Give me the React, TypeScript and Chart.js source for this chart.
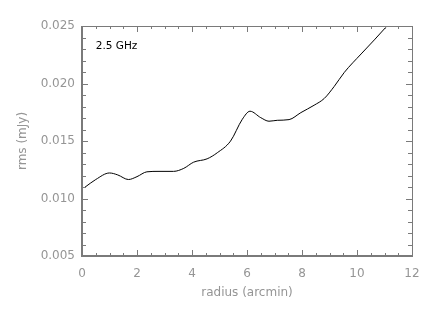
import React, { useEffect, useRef } from "react";
import { Chart, registerables } from "chart.js";

Chart.register(...registerables);

const radius = [0.1, 0.5, 1.0, 1.3, 1.69, 2.0, 2.36, 2.8, 3.33, 3.7, 4.06, 4.55, 4.92, 5.4, 5.83, 6.11, 6.5, 6.8, 7.1, 7.53, 7.96, 8.44, 8.81, 9.17, 9.54, 10.15, 10.63, 11.09];
const rms = [0.01097, 0.01165, 0.01222, 0.01205, 0.01165, 0.0119, 0.01232, 0.01236, 0.01236, 0.01262, 0.01316, 0.01345, 0.01398, 0.01499, 0.01689, 0.01759, 0.01703, 0.01672, 0.0168, 0.01686, 0.01747, 0.01811, 0.0187, 0.01974, 0.02097, 0.02257, 0.02379, 0.025];

const xMajor = [0, 2, 4, 6, 8, 10, 12];
const yMajor = [0.005, 0.01, 0.015, 0.02, 0.025];
const annotation = "2.5 GHz";
const xTitle = "radius (arcmin)";
const yTitle = "rms (mJy)";

const AXIS = "#7a7a7a";
const TEXT = "#959595";
const FONT = "'DejaVu Sans'";

const framePlugin = {
  id: "frame",
  afterDatasetsDraw(chart: any) {
    const { ctx, chartArea: a, scales } = chart;
    const xs = scales.x;
    const ys = scales.y;
    ctx.save();
    ctx.strokeStyle = AXIS;
    ctx.lineWidth = 1;
    for (let v = 0; v <= 12.001; v += 0.5) {
      const px = Math.round(xs.getPixelForValue(v)) + 0.5;
      const major = xMajor.some((m) => Math.abs(m - v) < 1e-6);
      const len = major ? 6 : 3;
      ctx.beginPath();
      ctx.moveTo(px, a.bottom);
      ctx.lineTo(px, a.bottom - len);
      ctx.moveTo(px, a.top);
      ctx.lineTo(px, a.top + len);
      ctx.stroke();
    }
    for (let i = 5; i <= 25; i++) {
      const v = i / 1000;
      const py = Math.round(ys.getPixelForValue(v)) + 0.5;
      const major = i % 5 === 0;
      const len = major ? 6 : 4;
      ctx.beginPath();
      ctx.moveTo(a.left, py);
      ctx.lineTo(a.left + len, py);
      ctx.moveTo(a.right, py);
      ctx.lineTo(a.right - len, py);
      ctx.stroke();
    }
    ctx.lineWidth = 1;
    ctx.beginPath();
    ctx.moveTo(a.left, a.top + 0.5);
    ctx.lineTo(a.right, a.top + 0.5);
    ctx.moveTo(a.right + 0.5, a.top);
    ctx.lineTo(a.right + 0.5, a.bottom);
    ctx.stroke();
    ctx.lineWidth = 2;
    ctx.beginPath();
    ctx.moveTo(a.left, a.top);
    ctx.lineTo(a.left, a.bottom);
    ctx.lineTo(a.right + 1, a.bottom);
    ctx.stroke();
    ctx.fillStyle = "#000";
    ctx.font = "10.5px " + FONT;
    ctx.textBaseline = "middle";
    ctx.textAlign = "left";
    ctx.fillText(annotation, xs.getPixelForValue(0.5), ys.getPixelForValue(0.0232));
    ctx.restore();
  },
};

export default function App() {
  const ref = useRef<HTMLCanvasElement>(null);
  useEffect(() => {
    const chart = new Chart(ref.current!, {
      type: "line",
      data: {
        datasets: [
          {
            data: radius.map((r, i) => ({ x: r, y: rms[i] })),
            borderColor: "#000",
            borderWidth: 1,
            pointRadius: 0,
            cubicInterpolationMode: "monotone",
            fill: false,
          },
        ],
      },
      options: {
        animation: false,
        responsive: false,
        devicePixelRatio: 1,
        layout: { padding: { left: 0, right: 24, top: 26, bottom: 0 } },
        plugins: { legend: { display: false }, tooltip: { enabled: false } },
        scales: {
          x: {
            type: "linear",
            min: 0,
            max: 12,
            grid: { display: false, drawTicks: false },
            border: { display: false },
            afterFit: (s: any) => {
              s.height = 56;
            },
            ticks: {
              stepSize: 2,
              color: TEXT,
              padding: 11,
              font: { family: FONT, size: 12 },
              maxRotation: 0,
            },
            title: {
              display: true,
              text: xTitle,
              color: TEXT,
              font: { family: FONT, size: 12 },
              padding: { top: 0, bottom: 12 },
            },
          },
          y: {
            type: "linear",
            min: 0.005,
            max: 0.025,
            grid: { display: false, drawTicks: false },
            border: { display: false },
            afterFit: (s: any) => {
              s.width = 82;
            },
            afterBuildTicks: (s: any) => {
              s.ticks = yMajor.map((v) => ({ value: v }));
            },
            ticks: {
              color: TEXT,
              padding: 7,
              font: { family: FONT, size: 12 },
              callback: (v: any) => Number(v).toFixed(3),
            },
            title: {
              display: true,
              text: yTitle,
              color: TEXT,
              font: { family: FONT, size: 12 },
              padding: { top: 16, bottom: 0 },
            },
          },
        },
      },
      plugins: [framePlugin],
    } as any);
    return () => chart.destroy();
  }, []);
  return (
    <div style={{ position: "fixed", left: 0, top: 0, width: 436, height: 312, background: "#fff" }}>
      <canvas ref={ref} width={436} height={312} />
    </div>
  );
}
